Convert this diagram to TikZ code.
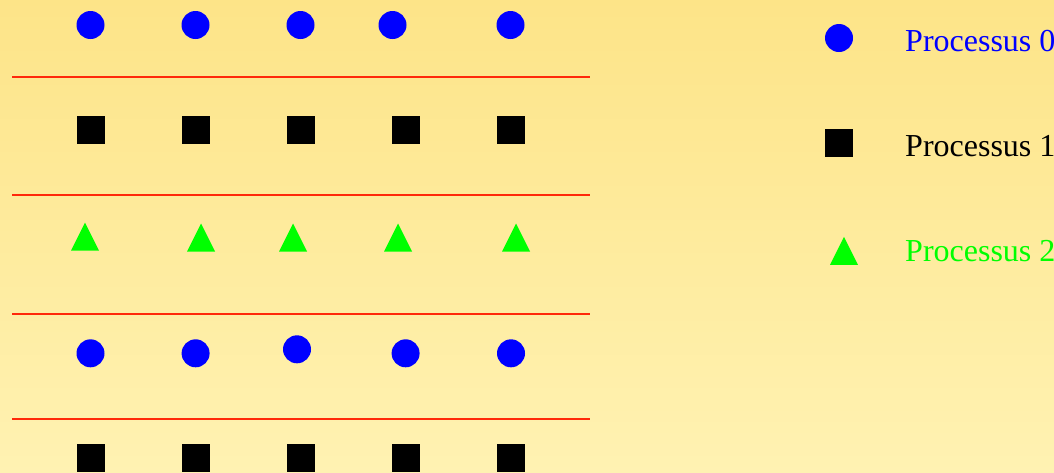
\documentclass[tikz,border=0pt]{standalone}
\usepackage{fontspec}
\setmainfont{Liberation Serif}
\usetikzlibrary{shapes.geometric}
\definecolor{bgtop}{RGB}{253,228,136}
\definecolor{bgbot}{RGB}{255,242,178}
\definecolor{pgreen}{RGB}{0,255,0}
\definecolor{pblue}{RGB}{0,0,255}
\definecolor{sepred}{RGB}{255,40,10}
\tikzset{
  dot/.style={circle,fill=pblue,draw=none,minimum size=28pt,inner sep=0pt},
  sq/.style={rectangle,fill=black,draw=none,minimum size=28pt,inner sep=0pt},
  tri/.style={isosceles triangle,isosceles triangle stretches,shape border rotate=90,
    fill=pgreen,draw=none,minimum width=28pt,minimum height=28pt,inner sep=0pt,anchor=south},
  sep/.style={sepred,line width=1.3pt},
  lab/.style={anchor=base west,inner sep=0pt,font=\fontsize{32}{38}\selectfont},
}
\begin{document}
\begin{tikzpicture}[x=1pt,y=-1pt]
\shade[top color=bgtop,bottom color=bgbot] (0,0) rectangle (1054,472);
\useasboundingbox (0,0) rectangle (1054,472);
% separators
\draw[sep] (12,77) -- (590,77);
\draw[sep] (12,195) -- (590,195);
\draw[sep] (12,314) -- (590,314);
\draw[sep] (12,419) -- (590,419);
% row 1 circles
\node[dot] (a1) at (90.5,25) {};
\node[dot] (a2) at (195.5,25) {};
\node[dot] (a3) at (300.5,25) {};
\node[dot] (a4) at (392.5,25) {};
\node[dot] (a5) at (510.5,25) {};
% row 2 squares
\node[sq] (b1) at (90.5,130) {};
\node[sq] (b2) at (195.5,130) {};
\node[sq] (b3) at (300.5,130) {};
\node[sq] (b4) at (405.5,130) {};
\node[sq] (b5) at (511,130) {};
% row 3 triangles
\node[tri] (c1) at (85,250.7) {};
\node[tri] (c2) at (201,251.7) {};
\node[tri] (c3) at (293,251.7) {};
\node[tri] (c4) at (398,251.7) {};
\node[tri] (c5) at (516,251.7) {};
% row 4 circles
\node[dot] (d1) at (90.5,353.3) {};
\node[dot] (d2) at (195.6,353.3) {};
\node[dot] (d3) at (297,349.3) {};
\node[dot] (d4) at (405.6,353.3) {};
\node[dot] (d5) at (511,353.3) {};
% row 5 squares
\node[sq] (e1) at (90.5,458.3) {};
\node[sq] (e2) at (195.6,458.3) {};
\node[sq] (e3) at (301,458.3) {};
\node[sq] (e4) at (405.6,458.3) {};
\node[sq] (e5) at (511,458.3) {};
% legend
\node[dot] (l0) at (839,38) {};
\node[sq] (l1) at (839,143) {};
\node[tri] (l2) at (844,265) {};
\node[lab,text=pblue] (t0) at (905,51) {Processus 0};
\node[lab,text=black] (t1) at (905,156) {Processus 1};
\node[lab,text=pgreen] (t2) at (905,261.7) {Processus 2};
\end{tikzpicture}
\end{document}
